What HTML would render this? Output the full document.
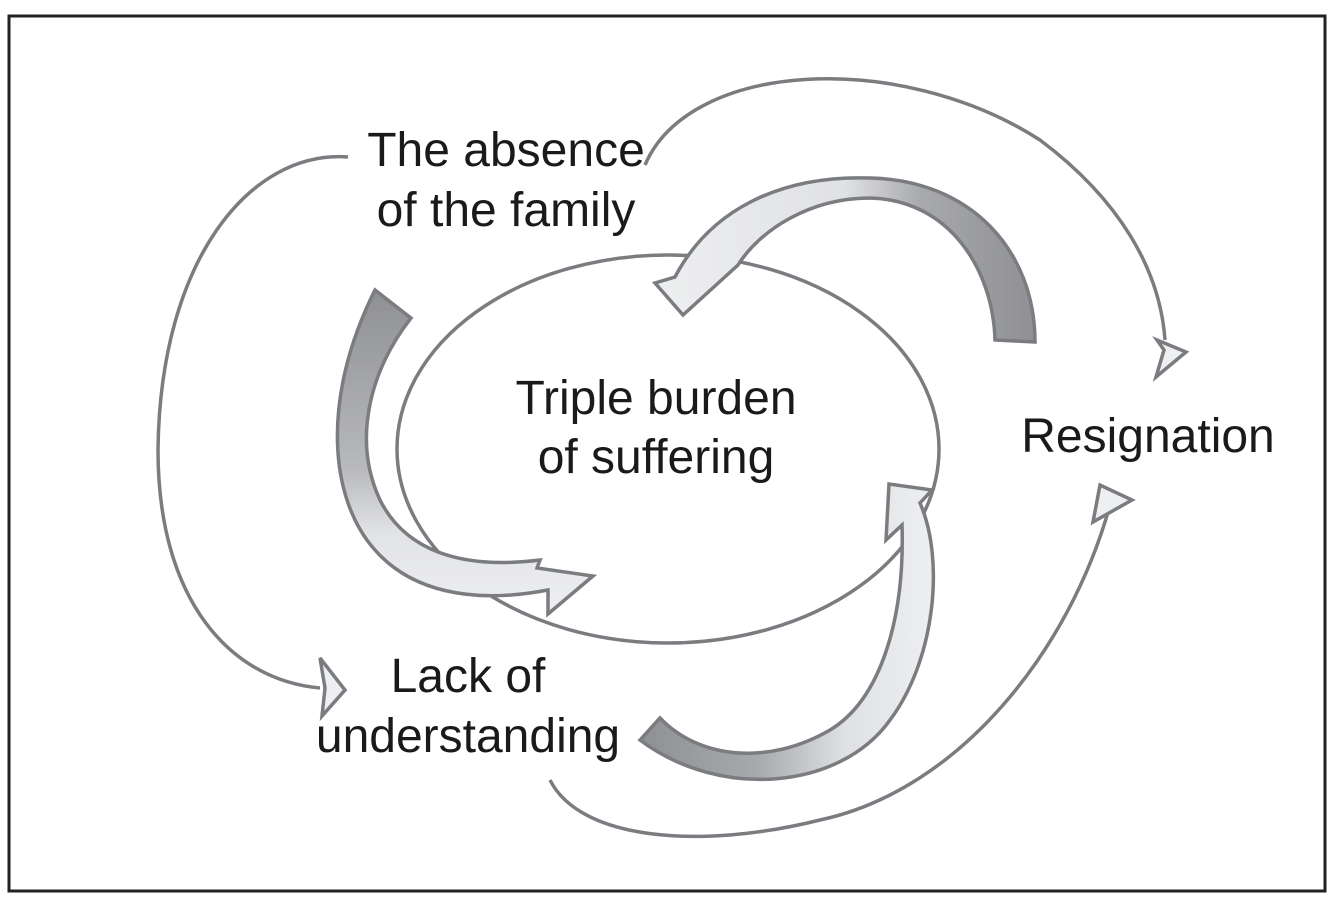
<!DOCTYPE html>
<html><head><style>
html,body{margin:0;padding:0;background:#fff;}
svg{display:block;}
text{font-family:"Liberation Sans",sans-serif;font-size:48px;fill:#1a1a1a;text-anchor:middle;}
</style></head><body>
<svg width="1334" height="920" viewBox="0 0 1334 920">
<defs>
<linearGradient id="gl" x1="0" y1="0" x2="0" y2="1">
<stop offset="0" stop-color="#8f9094"/><stop offset="0.55" stop-color="#b8b9bc"/><stop offset="0.75" stop-color="#e2e3e5"/><stop offset="1" stop-color="#eeeff0"/></linearGradient>
<linearGradient id="gt" x1="1" y1="0" x2="0" y2="0">
<stop offset="0" stop-color="#8f9094"/><stop offset="0.3" stop-color="#a8a9ac"/><stop offset="0.5" stop-color="#e0e1e3"/><stop offset="1" stop-color="#eeeff0"/></linearGradient>
<linearGradient id="gb" x1="0" y1="0" x2="1" y2="0">
<stop offset="0" stop-color="#8f9094"/><stop offset="0.4" stop-color="#a8a9ac"/><stop offset="0.7" stop-color="#e0e1e3"/><stop offset="1" stop-color="#eeeff0"/></linearGradient>
</defs>
<rect x="9" y="16" width="1316" height="875" fill="none" stroke="#222" stroke-width="3"/>
<g fill="none" stroke="#7b7c80" stroke-width="3.5">
<ellipse cx="668" cy="449" rx="271" ry="194"/>
<path d="M348,157 C250,150 160,260 158,450 C158,600 230,680 320,688"/>
<path d="M645,165 C690,60 900,50 1040,140 C1120,200 1160,270 1165,340"/>
<path d="M550,780 C580,840 700,850 820,820 C960,790 1070,650 1110,505"/>
</g>
<g fill="#eeeff0" stroke="#7b7c80" stroke-width="3.5" stroke-linejoin="miter">
<polygon points="320,658 345,690 322,716 325,688"/>
<polygon points="1157,340 1186,352 1156,377 1164,350"/>
<polygon points="1093,522 1100,485 1132,500"/>
</g>
<g stroke="#7b7c80" stroke-width="3.5" stroke-linejoin="miter">
<path fill="url(#gl)" d="M375,290 L411,318 C370,370 352,440 380,500 C405,550 460,570 540,560 L537,568 L593,576 L548,614 L548,590 C470,605 410,590 375,550 C330,500 320,400 375,290 Z"/>
<path fill="url(#gt)" d="M1035,342 L995,340 C993,270 950,200 870,198 C810,198 760,230 738,265 L683,315 L655,283 L675,277 C710,210 780,175 870,178 C970,180 1035,250 1035,342 Z"/>
<path fill="url(#gb)" d="M640,740 L660,718 C700,760 770,765 830,730 C880,700 905,620 902,525 L886,540 L889,484 L932,490 L920,503 C945,560 935,660 890,720 C840,790 720,800 640,740 Z"/>
</g>
<text x="506" y="166">The absence</text>
<text x="506" y="226">of the family</text>
<text x="656" y="414">Triple burden</text>
<text x="656" y="473">of suffering</text>
<text x="1148" y="452">Resignation</text>
<text x="468" y="692">Lack of</text>
<text x="468" y="752">understanding</text>
</svg>
</body></html>
